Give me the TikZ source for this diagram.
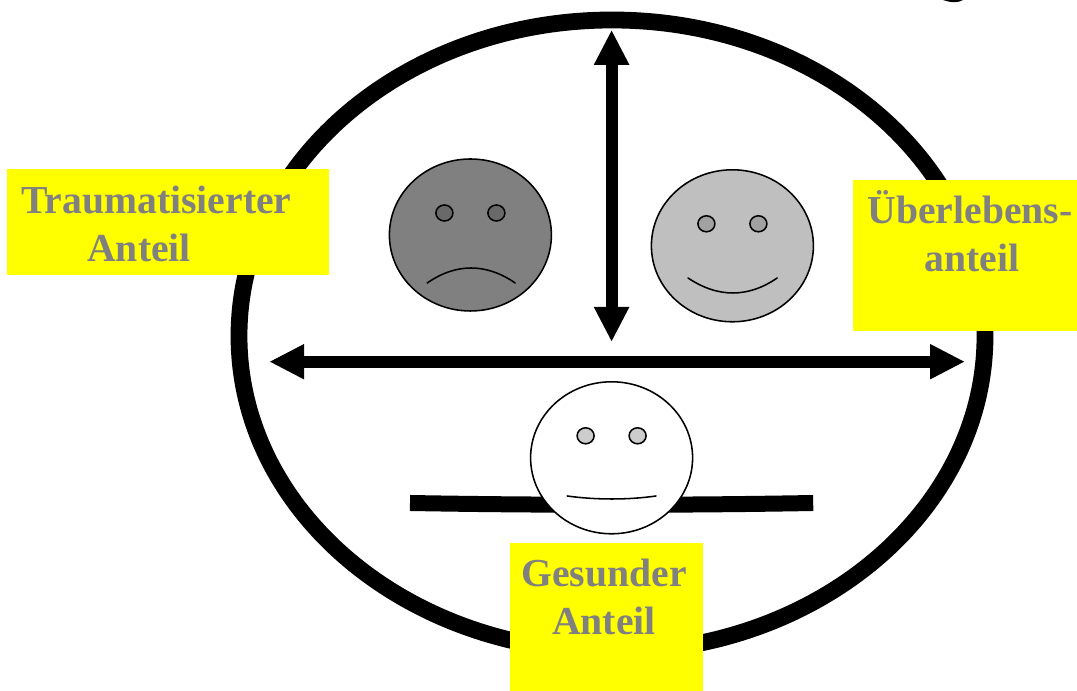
\documentclass[tikz,border=0pt]{standalone}
\usepackage{fontspec}
\usetikzlibrary{arrows.meta,positioning,shapes.geometric}
\setmainfont{Liberation Serif}
\definecolor{boxyellow}{RGB}{255,255,0}
\definecolor{textgray}{RGB}{128,128,128}

\begin{document}
\begin{tikzpicture}[x=1cm,y=1cm,
face/.style={draw=black,ellipse,line width=1.1pt,minimum width=4.05cm,minimum height=3.8cm,inner sep=0pt},
eye/.style={draw=black,ellipse,line width=1.1pt,minimum width=.425cm,minimum height=.4cm,inner sep=0pt},
mouth/.style={line width=1.1pt,line cap=round},
tag/.style={fill=boxyellow,inner sep=0pt},
tagtext/.style={text=textgray,font=\fontsize{28.2}{34}\selectfont\bfseries,inner sep=0pt},
bigarr/.style={{Triangle[length=.875cm,width=.82cm]}-{Triangle[length=.875cm,width=.82cm]},line width=.3cm,draw=black}]

\useasboundingbox (0,0) rectangle (26.925,17.275);
\fill (23.575,17.275) .. controls (23.8,17.2) and (23.95,17.2) .. (24.075,17.275) -- cycle;

% outer circle and arms of the healthy part
\draw[line width=.42cm] (15.3,8.875) ellipse (9.325 and 7.9);
\coordinate (armL) at (10.25,4.7);
\coordinate (armR) at (20.33,4.7);
\draw[line width=.4cm] (armL) .. controls (13.6,4.64) and (17,4.64) .. (armR);

% arrows
\coordinate (top) at (15.29,16.53);
\coordinate (bottom) at (15.29,8.725);
\coordinate (left) at (6.73,8.2325);
\coordinate (right) at (24.125,8.2325);
\draw[bigarr] (top)--(bottom);
\draw[bigarr] (left)--(right);

% faces
\node[face,fill=textgray] (sad) at(11.76,11.4){};
\node[face,fill=black!25] (happy) at(18.31,11.13){};
\node[face,fill=white] (neutral) at(15.29,5.83){};
\foreach \f/\c in {sad/{black!59},happy/{black!37},neutral/{black!20}}{
\node[eye,fill=\c] (\f L) at([shift={(-.65,.55)}]\f.center){};
\node[eye,fill=\c] (\f R) at([shift={(.65,.55)}]\f.center){};
}
\draw[mouth] (10.68,10.2) .. controls (11.4,10.7) and (12.15,10.7) .. (12.88,10.2);
\draw[mouth] (17.2,10.325) .. controls (17.95,9.825) and (18.7,9.825) .. (19.43,10.325);
\draw[mouth] (14.18,4.875) .. controls (14.9,4.775) and (15.7,4.775) .. (16.4,4.875);

% yellow labels
\node[tag,minimum width=8.05cm,minimum height=2.65cm] (traumabox) at(4.2,11.725){};
\node[tag,minimum width=5.6cm,minimum height=3.775cm] (survivebox) at(24.125,10.8875){};
\node[tag,minimum width=4.825cm,minimum height=3.7cm] (healthybox) at(15.1625,1.85){};
\node[tagtext,align=left] (trauma) at(3.91,11.67){Traumatisierter\\\hspace*{1.65cm}Anteil};
\node[tagtext,align=center] (survive) at(24.25,11.5){Überlebens-\\\hspace*{.1cm}anteil};
\node[tagtext,align=center] (healthy) at(15.1,2.35){Gesunder\\Anteil};
\end{tikzpicture}
\end{document}
